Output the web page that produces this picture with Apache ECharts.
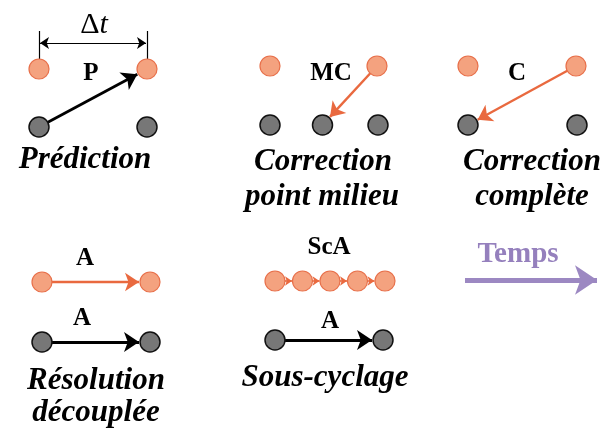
<!DOCTYPE html>
<html>
<head>
<meta charset="utf-8">
<script src="https://cdn.jsdelivr.net/npm/echarts@6/dist/echarts.min.js"></script>
<style>
  html, body { margin: 0; background: #fff; }
  #main { width: 603px; height: 435px; }
</style>
</head>
<body>
<div id="main"></div>
<script>
// noeuds (x, y) dans le repère du schéma
const orangeNodes = [[39, 69], [147, 69], [270, 66], [377, 66], [468, 66], [576, 66],
  [42, 282], [150, 282], [275, 281], [302.5, 281], [330, 281], [357.5, 281], [385, 281]];
const grayNodes = [[39, 127], [147, 127], [270, 125], [322.5, 125], [378, 125], [468, 125], [577, 125],
  [42, 342], [150, 342], [275, 340], [383, 340]];
// ligne du sous-cyclage
const subNodes = [[275, 281], [302.5, 281], [330, 281], [357.5, 281], [385, 281]];
// flèches [départ, arrivée]
const blackArrows = [[[39, 127], [147, 69]], [[42, 342], [150, 342]], [[275, 340], [383, 340]]];
const orangeArrows = [[[377, 66], [322.5, 125]], [[576, 66], [468, 125]], [[42, 282], [150, 282]]];
const timeArrow = [[465, 280], [597, 280]];
const dtArrow = [[40, 43], [146, 43]];
const dtTicks = [[[39, 31], [39, 59]], [[147, 31], [147, 59]]];
// textes
const boldLabels = [['P', 91, 74], ['MC', 331, 74], ['C', 517, 74], ['A', 85, 259], ['A', 82, 319], ['ScA', 329, 248], ['A', 330, 322]];
const captions = [['Prédiction', 85, 160], ['Correction', 323, 162], ['point milieu', 322, 197],
  ['Correction', 532, 162], ['complète', 532, 197], ['Résolution', 96, 381], ['découplée', 96, 413], ['Sous-cyclage', 325, 378]];
const dtLabel = [94, 25];
const timeLabel = [518, 255];

const R = 10;
// raccourcit la fin d'une flèche au bord du cercle
function shorten(a, b, d) {
  const dx = b[0] - a[0], dy = b[1] - a[1];
  const len = Math.sqrt(dx * dx + dy * dy);
  return [a, [b[0] - dx / len * d, b[1] - dy / len * d]];
}
function arrowSeries(list, color, width, size, d) {
  return {
    type: 'lines',
    coordinateSystem: 'cartesian2d',
    symbol: ['none', 'arrow'],
    symbolSize: size,
    lineStyle: { color: color, width: width, opacity: 1, curveness: 0 },
    z: 3,
    data: list.map((p) => ({ coords: shorten(p[0], p[1], d) })),
  };
}
function textSeries(list, style) {
  return {
    type: 'scatter',
    symbolSize: 0,
    itemStyle: { color: 'transparent', opacity: 1 },
    z: 10,
    label: Object.assign({ show: true, position: 'inside', formatter: '{b}', textBorderWidth: 0, textBorderColor: 'transparent' }, style),
    data: list.map((t) => ({ name: t[0], value: [t[1], t[2]] })),
  };
}

const subArrows = [];
for (let i = 0; i < subNodes.length - 1; i++) subArrows.push([subNodes[i], subNodes[i + 1]]);

const myChart = echarts.init(document.querySelector('#main'));
const option = {
  animation: false,
  grid: { left: 0, right: 0, top: 0, bottom: 0 },
  xAxis: { type: 'value', min: 0, max: 603, show: false },
  yAxis: { type: 'value', min: 0, max: 435, inverse: true, show: false },
  series: [
    arrowSeries(blackArrows, '#000', 2.8, 15, R + 1),
    arrowSeries(orangeArrows, '#e9693f', 2.4, 14, R + 1),
    arrowSeries(subArrows, '#e9693f', 1.6, 7, R + 0.5),
    arrowSeries([timeArrow], '#9c88c2', 5, 22, 0),
    {
      type: 'lines',
      coordinateSystem: 'cartesian2d',
      symbol: ['arrow', 'arrow'],
      symbolSize: 9,
      lineStyle: { color: '#000', width: 1.2, opacity: 1 },
      data: [{ coords: dtArrow }],
    },
    {
      type: 'lines',
      coordinateSystem: 'cartesian2d',
      symbol: 'none',
      lineStyle: { color: '#000', width: 1.2, opacity: 1 },
      data: dtTicks.map((c) => ({ coords: c })),
    },
    {
      type: 'scatter',
      symbolSize: 2 * R,
      z: 5,
      itemStyle: { color: '#f4a27f', borderColor: '#e8704a', borderWidth: 1.2, opacity: 1 },
      data: orangeNodes,
    },
    {
      type: 'scatter',
      symbolSize: 2 * R,
      z: 5,
      itemStyle: { color: '#777777', borderColor: '#111', borderWidth: 1.5, opacity: 1 },
      data: grayNodes,
    },
    textSeries(boldLabels, { fontFamily: 'Liberation Serif', fontWeight: 'bold', fontSize: 25, color: '#000000' }),
    textSeries(captions, { fontFamily: 'Liberation Serif', fontWeight: 'bold', fontStyle: 'italic', fontSize: 31, color: '#000000' }),
    textSeries([['Temps', timeLabel[0], timeLabel[1]]], { fontFamily: 'Liberation Serif', fontWeight: 'bold', fontSize: 29, color: '#9580bd' }),
    {
      type: 'scatter',
      symbolSize: 0,
      itemStyle: { color: 'transparent', opacity: 1 },
      z: 10,
      label: {
        show: true,
        position: 'inside',
        formatter: '{d|Δ}{t|t}',
        textBorderWidth: 0,
        rich: {
          d: { fontFamily: 'Liberation Serif', fontSize: 30, color: '#000' },
          t: { fontFamily: 'Liberation Serif', fontStyle: 'italic', fontSize: 30, color: '#000' },
        },
      },
      data: [dtLabel],
    },
  ],
};
myChart.setOption(option);
</script>
</body>
</html>
